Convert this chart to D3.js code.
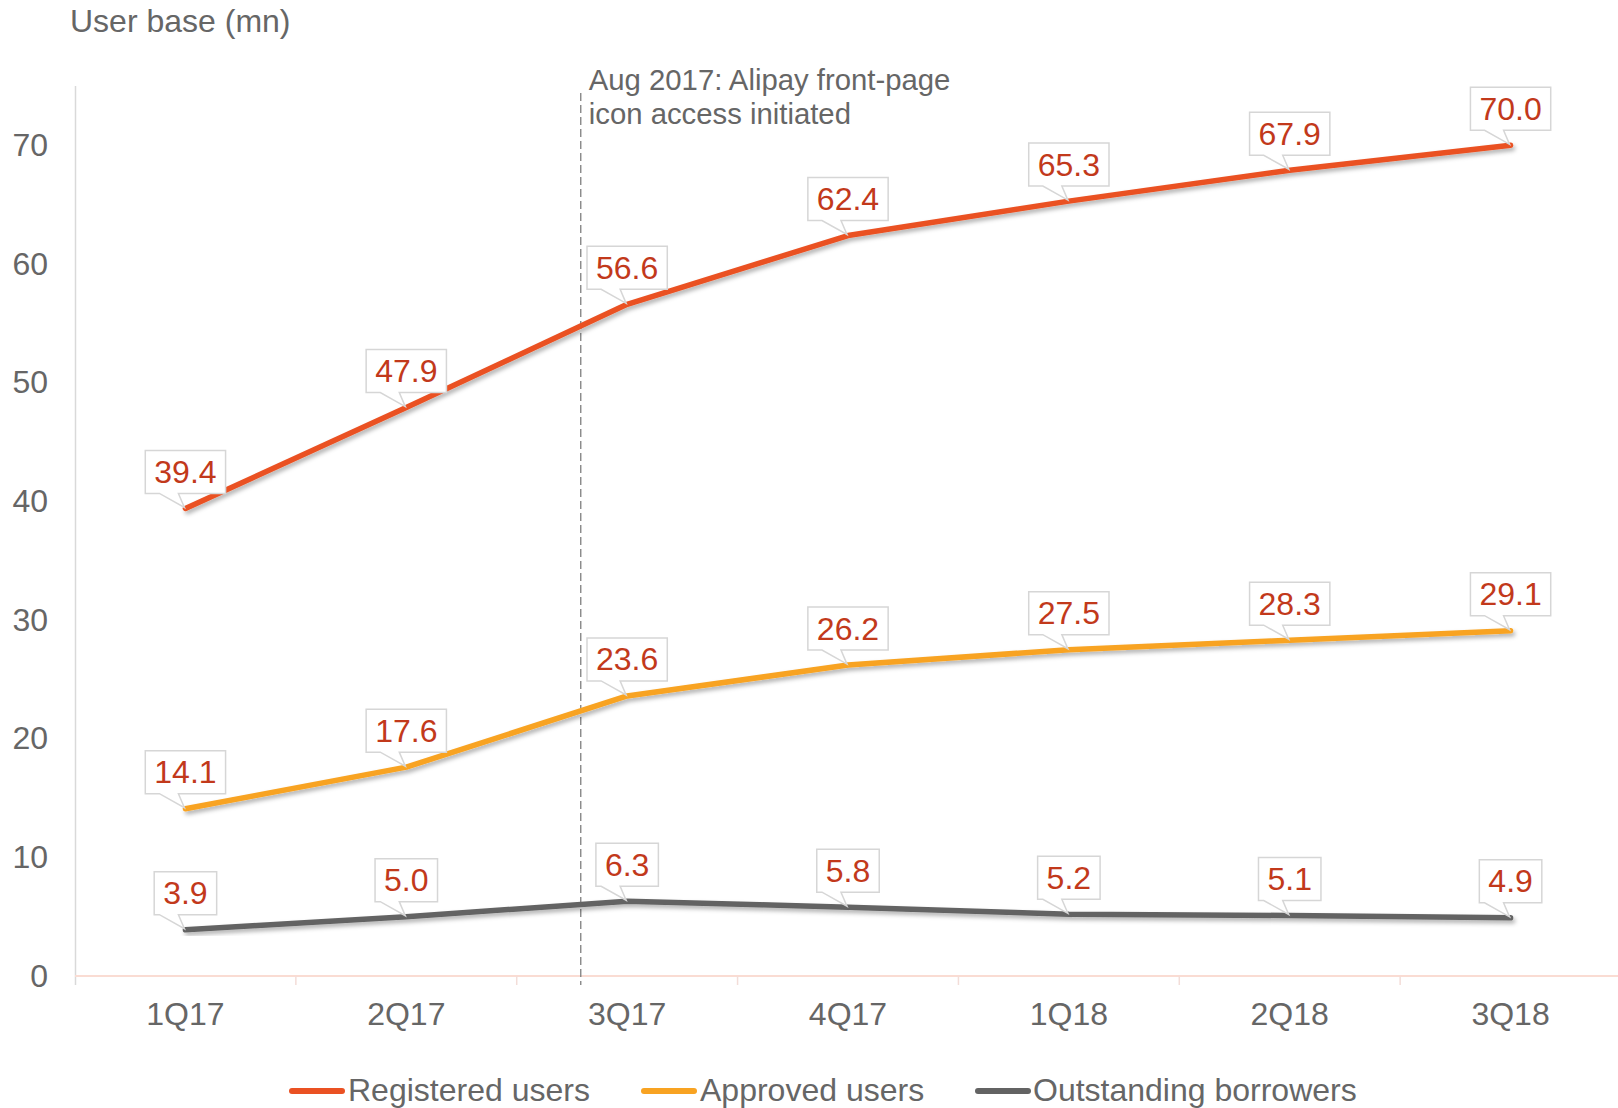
<!DOCTYPE html>
<html>
<head>
<meta charset="utf-8">
<script src="https://cdn.jsdelivr.net/npm/d3@7/dist/d3.min.js"></script>
<style>
  body { margin: 0; background: #fff; }
  svg { display: block; font-family: "Liberation Sans", Arial, sans-serif; }
</style>
</head>
<body>
<svg id="chart" width="1618" height="1108"></svg>
<script>
// categories and series
var quarters = ["1Q17", "2Q17", "3Q17", "4Q17", "1Q18", "2Q18", "3Q18"];
var registered = [39.4, 47.9, 56.6, 62.4, 65.3, 67.9, 70.0];
var approved = [14.1, 17.6, 23.6, 26.2, 27.5, 28.3, 29.1];
var borrowers = [3.9, 5.0, 6.3, 5.8, 5.2, 5.1, 4.9];
var yTicks = [0, 10, 20, 30, 40, 50, 60, 70];
var seriesNames = ["Registered users", "Approved users", "Outstanding borrowers"];
var seriesColors = ["#ea5123", "#f8a322", "#636363"];
var eventIndex = 1.79; // Aug 2017, between 2Q17 and 3Q17
var eventText = ["Aug 2017: Alipay front-page", "icon access initiated"];

var svg = d3.select("#chart");
var textGray = "#666666";
var labelRed = "#c2391b";
var fontFam = "Liberation Sans, Arial, sans-serif";

var x = d3.scaleBand().domain(quarters).range([75, 1621]).padding(0);
var y = d3.scaleLinear().domain([0, 75]).range([976, 86]);
var xc = function(i){ return x(quarters[i]) + x.bandwidth()/2; };

// drop shadow for the lines
var defs = svg.append("defs");
var f = defs.append("filter").attr("id", "shadow")
    .attr("x", "-5%").attr("y", "-20%").attr("width", "110%").attr("height", "140%");
f.append("feDropShadow").attr("dx", 2).attr("dy", 3).attr("stdDeviation", 2)
    .attr("flood-color", "#000").attr("flood-opacity", 0.3);

// y title
svg.append("text").attr("x", 70).attr("y", 32)
    .attr("font-size", 32).attr("fill", textGray).text("User base (mn)");

// y axis line
svg.append("line")
    .attr("x1", 75.5).attr("x2", 75.5)
    .attr("y1", y(75)).attr("y2", y(0) + 9)
    .attr("stroke", "#d9d9d9").attr("stroke-width", 1.5);

// y tick labels
var yAxis = svg.append("g").attr("transform", "translate(48,0)")
    .call(d3.axisLeft(y).tickValues(yTicks).tickSize(0).tickPadding(0));
yAxis.select(".domain").remove();
yAxis.selectAll("text").attr("font-size", 32).attr("fill", textGray)
    .attr("font-family", fontFam);

// x axis line and separators
svg.append("line")
    .attr("x1", 75).attr("x2", 1618)
    .attr("y1", y(0)).attr("y2", y(0))
    .attr("stroke", "#fadcd3").attr("stroke-width", 2);
svg.selectAll(".xsep").data(quarters.slice(1)).enter().append("line")
    .attr("class", "xsep")
    .attr("x1", function(d){ return x(d); }).attr("x2", function(d){ return x(d); })
    .attr("y1", y(0)).attr("y2", y(0) + 9)
    .attr("stroke", "#f3ddd8").attr("stroke-width", 1.5);

var xAxis = svg.append("g").attr("transform", "translate(0," + (y(0) + 26) + ")")
    .call(d3.axisBottom(x).tickSize(0).tickPadding(0));
xAxis.select(".domain").remove();
xAxis.selectAll("text").attr("font-size", 32).attr("fill", textGray)
    .attr("font-family", fontFam)
    .attr("dy", "0.71em");

// event marker
var ex = xc(0) + eventIndex * x.step();
svg.append("line")
    .attr("x1", ex).attr("x2", ex)
    .attr("y1", 93).attr("y2", y(0) + 9)
    .attr("stroke", "#7f7f7f").attr("stroke-width", 1.3)
    .attr("stroke-dasharray", "8,4");
svg.append("g").selectAll("text").data(eventText).enter().append("text")
    .attr("x", ex + 8)
    .attr("y", function(d, i){ return 90 + i * 34; })
    .attr("font-size", 29.3).attr("fill", textGray)
    .text(function(d){ return d; });

// lines
var seriesData = [registered, approved, borrowers];
var line = d3.line()
    .x(function(d, i){ return xc(i); })
    .y(function(d){ return y(d); });

svg.append("g").selectAll("path").data(seriesData).enter().append("path")
    .attr("d", line)
    .attr("fill", "none")
    .attr("stroke", function(d, i){ return seriesColors[i]; })
    .attr("stroke-width", 5.5)
    .attr("stroke-linejoin", "round")
    .attr("stroke-linecap", "round")
    .attr("filter", "url(#shadow)");

// data label callouts
var labels = [];
seriesData.forEach(function(s){
    s.forEach(function(v, i){ labels.push({v: v, i: i}); });
});

var lg = svg.append("g");
labels.forEach(function(d){
    var px = xc(d.i), py = y(d.v);
    var txt = d.v.toFixed(1);
    var g = lg.append("g");
    var t = g.append("text")
        .attr("x", px).attr("y", py - 15 - 22)
        .attr("dy", "0.36em")
        .attr("text-anchor", "middle")
        .attr("font-size", 32).attr("fill", labelRed)
        .text(txt);
    var w = t.node().getComputedTextLength() + 18;
    var h = 43;
    var l = px - w/2, r = px + w/2, b = py - 15, tp = b - h;
    var path = "M" + l + "," + tp + "L" + r + "," + tp + "L" + r + "," + b +
        "L" + (px - 7) + "," + b + "L" + (px - 1) + "," + (py - 1) +
        "L" + (px - 26) + "," + b + "L" + l + "," + b + "Z";
    g.insert("path", "text")
        .attr("d", path)
        .attr("fill", "#fff")
        .attr("stroke", "#d6d6d6").attr("stroke-width", 1.5);
});

// legend
var legendPos = [
    {x: 289, tx: 348},
    {x: 641, tx: 700},
    {x: 975, tx: 1033}
];
var leg = svg.append("g");
seriesNames.forEach(function(n, i){
    var it = legendPos[i];
    leg.append("line")
        .attr("x1", it.x + 3).attr("x2", it.x + 53)
        .attr("y1", 1091).attr("y2", 1091)
        .attr("stroke", seriesColors[i]).attr("stroke-width", 6)
        .attr("stroke-linecap", "round");
    leg.append("text")
        .attr("x", it.tx)
        .attr("y", 1101)
        .attr("font-size", 32).attr("fill", textGray)
        .text(n);
});
</script>
</body>
</html>
